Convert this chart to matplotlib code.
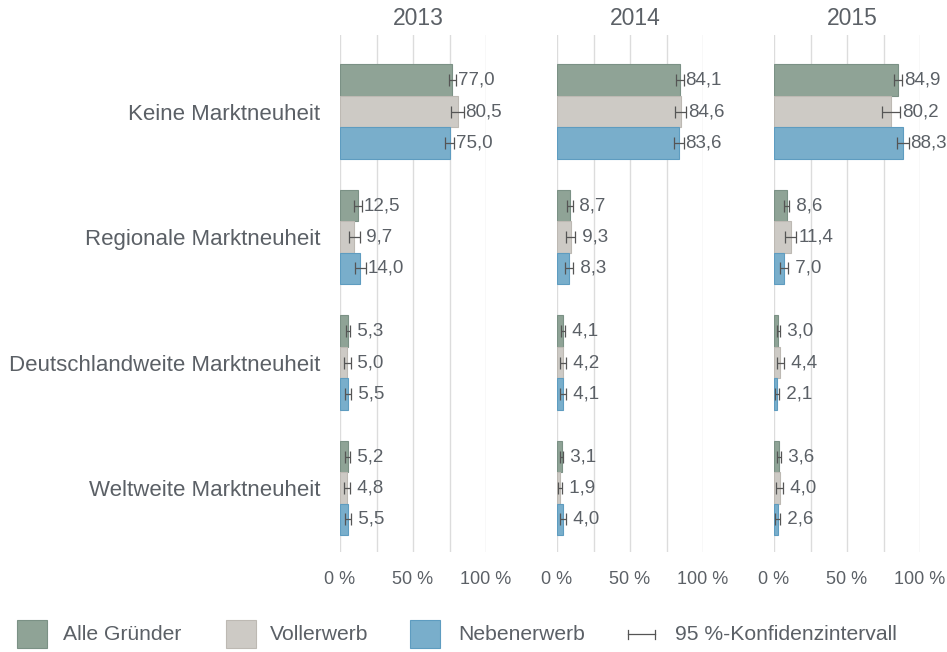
import matplotlib.pyplot as plt
from matplotlib.patches import Rectangle
from matplotlib.lines import Line2D

plt.rcParams['font.family'] = ['Liberation Sans', 'DejaVu Sans']

# --- data ---
categories = ["Keine Marktneuheit", "Regionale Marktneuheit",
              "Deutschlandweite Marktneuheit", "Weltweite Marktneuheit"]
years = ["2013", "2014", "2015"]
series = ["Alle Gründer", "Vollerwerb", "Nebenerwerb"]

alle_2013 = [77.0, 12.5, 5.3, 5.2]
voll_2013 = [80.5, 9.7, 5.0, 4.8]
neben_2013 = [75.0, 14.0, 5.5, 5.5]
alle_2014 = [84.1, 8.7, 4.1, 3.1]
voll_2014 = [84.6, 9.3, 4.2, 1.9]
neben_2014 = [83.6, 8.3, 4.1, 4.0]
alle_2015 = [84.9, 8.6, 3.0, 3.6]
voll_2015 = [80.2, 11.4, 4.4, 4.0]
neben_2015 = [88.3, 7.0, 2.1, 2.6]

# half width of the 95 % confidence interval (estimated)
ci_alle_2013 = [2.5, 2.6, 1.5, 1.5]
ci_voll_2013 = [4.3, 3.8, 2.2, 2.2]
ci_neben_2013 = [3.2, 3.6, 2.3, 2.3]
ci_alle_2014 = [2.6, 2.0, 1.3, 1.2]
ci_voll_2014 = [4.0, 3.2, 2.0, 1.4]
ci_neben_2014 = [3.2, 2.7, 2.0, 2.0]
ci_alle_2015 = [2.8, 2.0, 1.2, 1.3]
ci_voll_2015 = [6.3, 4.0, 2.4, 2.4]
ci_neben_2015 = [4.0, 2.6, 1.4, 1.6]

values = [[alle_2013, voll_2013, neben_2013],
          [alle_2014, voll_2014, neben_2014],
          [alle_2015, voll_2015, neben_2015]]
cis = [[ci_alle_2013, ci_voll_2013, ci_neben_2013],
       [ci_alle_2014, ci_voll_2014, ci_neben_2014],
       [ci_alle_2015, ci_voll_2015, ci_neben_2015]]

colors = ["#8fa396", "#cdcac5", "#79aecb"]
edges = ["#7b9185", "#bdb9b3", "#5e9cc0"]
text_col = "#5b6066"
grid_col = "#dcdcdc"

W, H = 947, 652
fig = plt.figure(figsize=(W / 100, H / 100), dpi=100)

lefts = [340, 557, 774]
ax_w = 146
top_px, bot_px = 35, 552
offsets = [-0.25, 0.0, 0.25]

for i, year in enumerate(years):
    ax = fig.add_axes([lefts[i] / W, 1 - bot_px / H, ax_w / W, (bot_px - top_px) / H])
    for j in range(3):
        ys = [k + offsets[j] for k in range(len(categories))]
        ax.barh(ys, values[i][j], height=0.25, color=colors[j],
                edgecolor=edges[j], linewidth=0.8, zorder=2)
        ax.errorbar(values[i][j], ys, xerr=cis[i][j], fmt="none",
                    ecolor="#555555", elinewidth=0.9, capsize=4,
                    capthick=0.9, zorder=3)
        for v, e, y in zip(values[i][j], cis[i][j], ys):
            lab = f"{v:.1f}".replace(".", ",")
            if v < 10:
                lab = " " + lab
            ax.text(v + e + 1.2, y, lab, va="center", ha="left",
                    fontsize=13.5, color=text_col, clip_on=False, zorder=4)

    ax.set_xlim(0, 100)
    ax.set_ylim(3.51, -0.61)
    ax.set_xticks([0, 25, 50, 75, 100])
    ax.set_xticklabels(["0 %", "", "50 %", "", "100 %"])
    ax.grid(axis="x", color=grid_col, linewidth=1, zorder=0)
    ax.set_axisbelow(True)
    ax.tick_params(axis="x", length=0, pad=14, labelsize=13, labelcolor=text_col)
    ax.tick_params(axis="y", length=0, pad=14, labelsize=16, labelcolor=text_col)
    for s in ax.spines.values():
        s.set_visible(False)
    ax.set_yticks(range(len(categories)))
    if i == 0:
        ax.set_yticklabels(categories)
    else:
        ax.set_yticklabels([])
    # year heading above each panel
    ax.text(53.8, -0.745, year, ha="center", va="center",
            fontsize=16.5, color=text_col, clip_on=False)

# --- legend drawn by hand ---
leg_y = 634
sq_w, sq_h = 30, 28
legend_items = [(17, 63, 0), (226, 270, 1), (410, 458, 2)]
for sx, tx, j in legend_items:
    fig.add_artist(Rectangle((sx / W, 1 - (leg_y + sq_h / 2) / H), sq_w / W, sq_h / H,
                             transform=fig.transFigure, facecolor=colors[j],
                             edgecolor=edges[j], linewidth=0.8))
    fig.text(tx / W, 1 - (leg_y + 1) / H, series[j], ha="left", va="center",
             fontsize=15.2, color=text_col)

x0, x1 = 628 / W, 655 / W
yy = 1 - leg_y / H
fig.add_artist(Line2D([x0, x1], [yy, yy], transform=fig.transFigure,
                      color="#555555", linewidth=0.9))
for xx in (x0, x1):
    fig.add_artist(Line2D([xx, xx], [yy - 4.5 / H, yy + 4.5 / H], transform=fig.transFigure,
                          color="#555555", linewidth=0.9))
fig.text(675 / W, 1 - (leg_y + 1) / H, "95 %-Konfidenzintervall", ha="left", va="center",
         fontsize=15.2, color=text_col)

fig.savefig("out.png", dpi=100)
